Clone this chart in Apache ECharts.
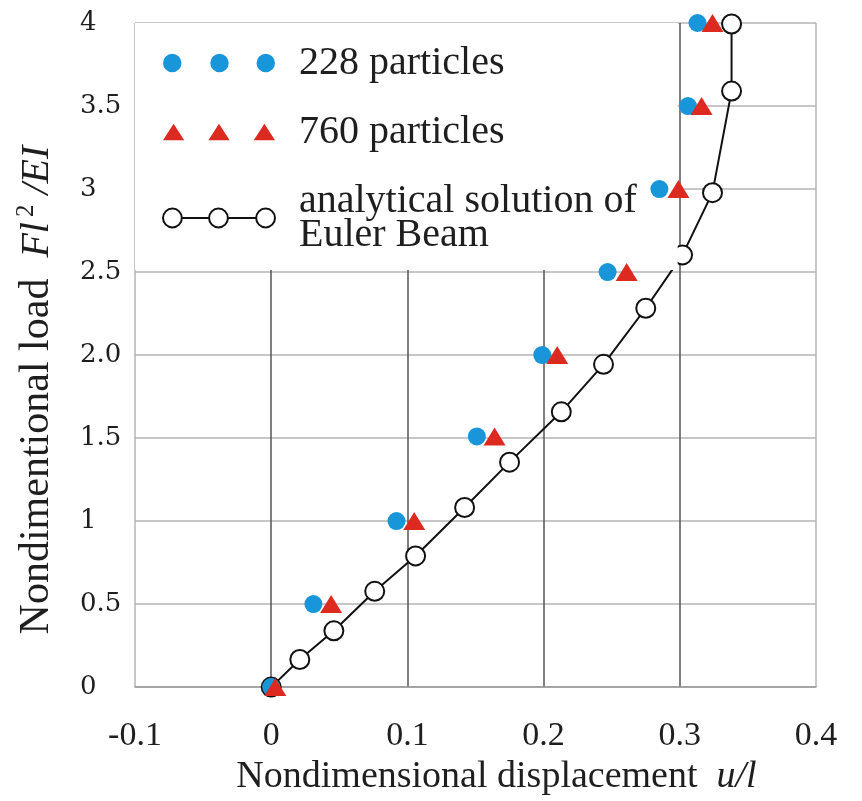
<!DOCTYPE html>
<html>
<head>
<meta charset="utf-8">
<script src="https://cdn.jsdelivr.net/npm/echarts@6/dist/echarts.min.js"></script>
<style>html,body{margin:0;padding:0;background:#fff}#c{width:862px;height:801px}</style>
</head>
<body>
<div id="c"></div>
<script>
// ---- data ----
const loads228 = [0, 0.5, 1, 1.51, 2, 2.5, 3, 3.5, 4];
const disp228  = [0, 0.031, 0.092, 0.151, 0.199, 0.247, 0.285, 0.306, 0.313];
const loads760 = [0, 0.5, 1, 1.51, 2, 2.5, 3, 3.5, 4];
const disp760  = [0.003, 0.044, 0.105, 0.164, 0.210, 0.261, 0.299, 0.316, 0.324];
const dispAna  = [0, 0.021, 0.046, 0.076, 0.106, 0.142, 0.175, 0.213, 0.244, 0.275, 0.302, 0.324, 0.338, 0.338];
const loadsAna = [0, 0.166, 0.339, 0.577, 0.790, 1.082, 1.355, 1.658, 1.944, 2.282, 2.603, 2.978, 3.590, 3.994];
const yTickLabels = ['0', '0.5', '1', '1.5', '2.0', '2.5', '3', '3.5', '4'];
const seriesNames = ['228 particles', '760 particles', 'analytical solution of\nEuler Beam'];

const zip = (xs, ys) => xs.map((x, i) => [x, ys[i]]);
const circ = (cx, cy, r) => `M${cx - r},${cy}a${r},${r} 0 1,0 ${2 * r},0a${r},${r} 0 1,0 ${-2 * r},0Z`;
const iconDots = 'path://' + circ(9, 9, 9) + circ(55, 9, 9) + circ(100, 9, 9);
const iconTri = 'path://M0,17L11,0L22,17Z M47,17L58,0L69,17Z M94,17L105,0L116,17Z';
const iconOpen = 'path://' + circ(10, 10, 9) + circ(54, 10, 9) + circ(99, 10, 9) + 'M19,10L45,10M63,10L90,10';

const serif = 'Liberation Serif';
const txt = '#1e1e1e';
const chart = echarts.init(document.getElementById('c'));
chart.setOption({
  backgroundColor: '#fff',
  animation: false,
  grid: { left: 135, right: 46, top: 23, bottom: 106, show: false },
  legend: {
    orient: 'vertical',
    left: 135, top: 23,
    padding: [20, 41, 15, 27],
    backgroundColor: '#fff',
    itemWidth: 112, itemHeight: 20,
    itemGap: 29,
    textStyle: { fontFamily: serif, fontSize: 40, color: txt, lineHeight: 34, padding: [0, 0, 0, 19] },
    data: [
      { name: seriesNames[0], icon: iconDots },
      { name: seriesNames[1], icon: iconTri },
      { name: seriesNames[2], icon: iconOpen,
        itemStyle: { color: 'rgba(0,0,0,0)', borderColor: '#111', borderWidth: 2 } }
    ]
  },
  xAxis: {
    type: 'value', min: -0.1, max: 0.4, interval: 0.1,
    axisLine: { show: true, lineStyle: { color: '#9a9a9a', width: 1.5 } },
    axisTick: { show: false },
    splitLine: { show: true, lineStyle: { width: 1.5, color: ['#b4b4b4', '#555', '#555', '#555', '#555', '#b4b4b4'] } },
    axisLabel: { fontFamily: serif, fontSize: 34, color: txt, margin: 32 },
    name: 'Nondimensional displacement  {i|u/l}',
    nameLocation: 'middle', nameGap: 62,
    nameTextStyle: {
      fontFamily: serif, fontSize: 38, color: txt, padding: [0, 0, 0, 42],
      rich: { i: { fontFamily: serif, fontSize: 38, fontStyle: 'italic', color: txt } }
    }
  },
  yAxis: {
    type: 'value', min: 0, max: 4, interval: 0.5,
    axisLine: { show: false },
    axisTick: { show: false },
    splitLine: { show: true, lineStyle: { color: '#b4b4b4', width: 1.5 } },
    axisLabel: {
      fontFamily: 'DejaVu Serif', fontSize: 26, color: txt, align: 'left', margin: 55,
      formatter: (v) => yTickLabels[Math.round(v / 0.5)]
    },
    name: '{a|Nondimentional load  }{i|Fl}{s|2}{i| /EI}',
    nameLocation: 'middle', nameGap: 75,
    nameTextStyle: {
      color: txt, padding: [0, 70, 0, 0],
      rich: {
        a: { fontFamily: serif, fontSize: 42, color: txt, lineHeight: 46 },
        i: { fontFamily: serif, fontSize: 40, fontStyle: 'italic', color: txt, lineHeight: 46 },
        s: { fontFamily: serif, fontSize: 25, color: txt, verticalAlign: 'top', lineHeight: 25, padding: [0, 0, 0, 5] }
      }
    }
  },
  series: [
    {
      name: seriesNames[2], type: 'line', z: 3,
      data: zip(dispAna, loadsAna),
      symbol: 'emptyCircle', symbolSize: 19,
      itemStyle: { color: '#111', borderWidth: 2 },
      lineStyle: { color: '#111', width: 2 }
    },
    {
      name: seriesNames[0], type: 'scatter', z: 5,
      data: zip(disp228, loads228),
      symbol: 'circle', symbolSize: 18,
      itemStyle: { color: '#1896d9', opacity: 1 }
    },
    {
      name: seriesNames[1], type: 'scatter', z: 6,
      data: zip(disp760, loads760),
      symbol: 'triangle', symbolSize: [22, 18],
      itemStyle: { color: '#dc2a20', opacity: 1 }
    }
  ]
});
</script>
</body>
</html>
